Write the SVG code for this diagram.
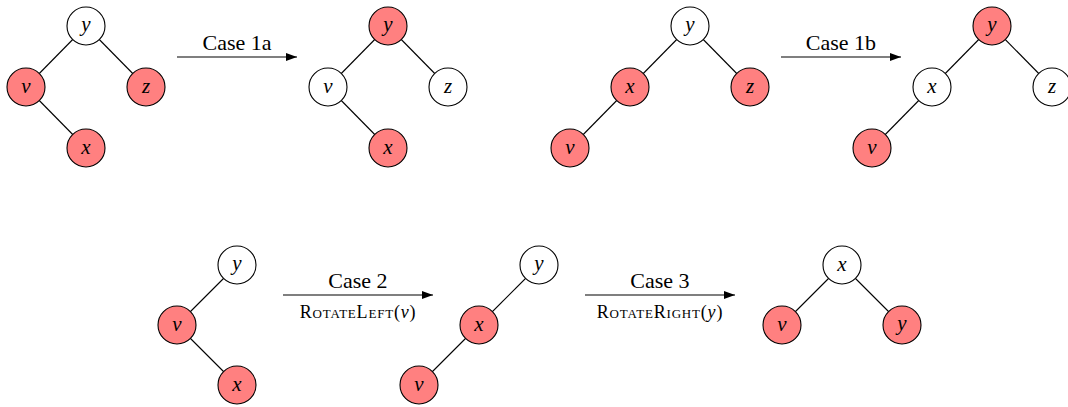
<svg xmlns="http://www.w3.org/2000/svg" xmlns:xlink="http://www.w3.org/1999/xlink" width="1068" height="407" viewBox="0 0 1068 407">
  <defs>
    <!-- arrowhead for the transformation arrows -->
    <marker id="head" viewBox="0 0 11 8" refX="11" refY="4" markerWidth="11" markerHeight="8" markerUnits="userSpaceOnUse" orient="auto">
      <path d="M0,0 L11,4 L0,8 z" fill="#000"/>
    </marker>
    <!-- node discs: red and black tree colouring -->
    <circle id="red" r="19" fill="#ff8080" stroke="#000" stroke-width="1.1"/>
    <circle id="wht" r="19" fill="#fff" stroke="#000" stroke-width="1.1"/>
  </defs>

  <!-- tree edges and transformation arrows -->
  <g id="connectors" stroke="#000" stroke-width="1.1" fill="none">
    <line x1="86" y1="26" x2="26" y2="87"/>
    <line x1="86" y1="26" x2="146" y2="87"/>
    <line x1="26" y1="87" x2="86" y2="148"/>
    <line x1="388" y1="26" x2="328" y2="87"/>
    <line x1="388" y1="26" x2="448" y2="87"/>
    <line x1="328" y1="87" x2="388" y2="148"/>
    <line x1="690" y1="26" x2="630" y2="87"/>
    <line x1="690" y1="26" x2="750" y2="87"/>
    <line x1="630" y1="87" x2="570" y2="148"/>
    <line x1="992" y1="26" x2="932" y2="87"/>
    <line x1="992" y1="26" x2="1052" y2="87"/>
    <line x1="932" y1="87" x2="872" y2="148"/>
    <line x1="237" y1="265" x2="177" y2="325"/>
    <line x1="177" y1="325" x2="237" y2="385"/>
    <line x1="539" y1="265" x2="479" y2="325"/>
    <line x1="479" y1="325" x2="419" y2="385"/>
    <line x1="842" y1="265" x2="782" y2="325"/>
    <line x1="842" y1="265" x2="902" y2="325"/>
    <line x1="177" y1="57" x2="297" y2="57" marker-end="url(#head)"/>
    <line x1="781" y1="57" x2="901" y2="57" marker-end="url(#head)"/>
    <line x1="283" y1="295" x2="433" y2="295" marker-end="url(#head)"/>
    <line x1="585" y1="295" x2="735" y2="295" marker-end="url(#head)"/>
  </g>

  <!-- arrow labels -->
  <g id="labels">
    <text x="237" y="50" font-family="Liberation Serif" font-size="22" text-anchor="middle">Case 1a</text>
    <text x="841" y="50" font-family="Liberation Serif" font-size="22" text-anchor="middle">Case 1b</text>
    <text x="358" y="288" font-family="Liberation Serif" font-size="22" text-anchor="middle">Case 2</text>
    <text x="358" y="318" font-family="Liberation Serif" font-size="18" text-anchor="middle" font-variant="small-caps" letter-spacing="0.8">RotateLeft(<tspan font-style="italic" font-variant="normal">v</tspan>)</text>
    <text x="660" y="288" font-family="Liberation Serif" font-size="22" text-anchor="middle">Case 3</text>
    <text x="660" y="318" font-family="Liberation Serif" font-size="18" text-anchor="middle" font-variant="small-caps" letter-spacing="0.8">RotateRight(<tspan font-style="italic" font-variant="normal">y</tspan>)</text>
  </g>

  <!-- tree 1 -->
  <g id="t1-y"><use xlink:href="#wht" x="86" y="26"/><text x="86" y="31" font-family="Liberation Serif" font-style="italic" font-size="21" text-anchor="middle">y</text></g>
  <g id="t1-v"><use xlink:href="#red" x="26" y="87"/><text x="26" y="93" font-family="Liberation Serif" font-style="italic" font-size="21" text-anchor="middle">v</text></g>
  <g id="t1-z"><use xlink:href="#red" x="146" y="87"/><text x="146" y="93" font-family="Liberation Serif" font-style="italic" font-size="21" text-anchor="middle">z</text></g>
  <g id="t1-x"><use xlink:href="#red" x="86" y="148"/><text x="86" y="154" font-family="Liberation Serif" font-style="italic" font-size="21" text-anchor="middle">x</text></g>

  <!-- tree 2 -->
  <g id="t2-y"><use xlink:href="#red" x="388" y="26"/><text x="388" y="31" font-family="Liberation Serif" font-style="italic" font-size="21" text-anchor="middle">y</text></g>
  <g id="t2-v"><use xlink:href="#wht" x="328" y="87"/><text x="328" y="93" font-family="Liberation Serif" font-style="italic" font-size="21" text-anchor="middle">v</text></g>
  <g id="t2-z"><use xlink:href="#wht" x="448" y="87"/><text x="448" y="93" font-family="Liberation Serif" font-style="italic" font-size="21" text-anchor="middle">z</text></g>
  <g id="t2-x"><use xlink:href="#red" x="388" y="148"/><text x="388" y="154" font-family="Liberation Serif" font-style="italic" font-size="21" text-anchor="middle">x</text></g>

  <!-- tree 3 -->
  <g id="t3-y"><use xlink:href="#wht" x="690" y="26"/><text x="690" y="31" font-family="Liberation Serif" font-style="italic" font-size="21" text-anchor="middle">y</text></g>
  <g id="t3-x"><use xlink:href="#red" x="630" y="87"/><text x="630" y="93" font-family="Liberation Serif" font-style="italic" font-size="21" text-anchor="middle">x</text></g>
  <g id="t3-z"><use xlink:href="#red" x="750" y="87"/><text x="750" y="93" font-family="Liberation Serif" font-style="italic" font-size="21" text-anchor="middle">z</text></g>
  <g id="t3-v"><use xlink:href="#red" x="570" y="148"/><text x="570" y="154" font-family="Liberation Serif" font-style="italic" font-size="21" text-anchor="middle">v</text></g>

  <!-- tree 4 -->
  <g id="t4-y"><use xlink:href="#red" x="992" y="26"/><text x="992" y="31" font-family="Liberation Serif" font-style="italic" font-size="21" text-anchor="middle">y</text></g>
  <g id="t4-x"><use xlink:href="#wht" x="932" y="87"/><text x="932" y="93" font-family="Liberation Serif" font-style="italic" font-size="21" text-anchor="middle">x</text></g>
  <g id="t4-z"><use xlink:href="#wht" x="1052" y="87"/><text x="1052" y="93" font-family="Liberation Serif" font-style="italic" font-size="21" text-anchor="middle">z</text></g>
  <g id="t4-v"><use xlink:href="#red" x="872" y="148"/><text x="872" y="154" font-family="Liberation Serif" font-style="italic" font-size="21" text-anchor="middle">v</text></g>

  <!-- tree 5 -->
  <g id="t5-y"><use xlink:href="#wht" x="237" y="265"/><text x="237" y="270" font-family="Liberation Serif" font-style="italic" font-size="21" text-anchor="middle">y</text></g>
  <g id="t5-v"><use xlink:href="#red" x="177" y="325"/><text x="177" y="331" font-family="Liberation Serif" font-style="italic" font-size="21" text-anchor="middle">v</text></g>
  <g id="t5-x"><use xlink:href="#red" x="237" y="385"/><text x="237" y="391" font-family="Liberation Serif" font-style="italic" font-size="21" text-anchor="middle">x</text></g>

  <!-- tree 6 -->
  <g id="t6-y"><use xlink:href="#wht" x="539" y="265"/><text x="539" y="270" font-family="Liberation Serif" font-style="italic" font-size="21" text-anchor="middle">y</text></g>
  <g id="t6-x"><use xlink:href="#red" x="479" y="325"/><text x="479" y="331" font-family="Liberation Serif" font-style="italic" font-size="21" text-anchor="middle">x</text></g>
  <g id="t6-v"><use xlink:href="#red" x="419" y="385"/><text x="419" y="391" font-family="Liberation Serif" font-style="italic" font-size="21" text-anchor="middle">v</text></g>

  <!-- tree 7 -->
  <g id="t7-x"><use xlink:href="#wht" x="842" y="265"/><text x="842" y="271" font-family="Liberation Serif" font-style="italic" font-size="21" text-anchor="middle">x</text></g>
  <g id="t7-v"><use xlink:href="#red" x="782" y="325"/><text x="782" y="331" font-family="Liberation Serif" font-style="italic" font-size="21" text-anchor="middle">v</text></g>
  <g id="t7-y"><use xlink:href="#red" x="902" y="325"/><text x="902" y="330" font-family="Liberation Serif" font-style="italic" font-size="21" text-anchor="middle">y</text></g>
</svg>
